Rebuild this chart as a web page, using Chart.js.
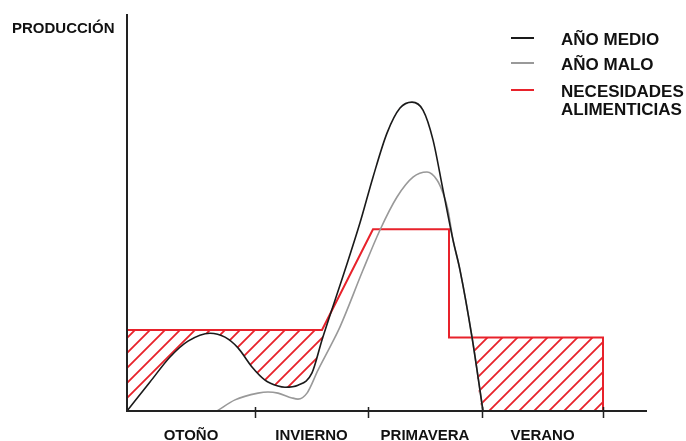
<!DOCTYPE html>
<html>
<head>
<meta charset="utf-8">
<script src="https://cdn.jsdelivr.net/npm/chart.js@4.4.1/dist/chart.umd.min.js"></script>
<style>
  html, body { margin: 0; padding: 0; background: #fff; }
  canvas { display: block; }
</style>
</head>
<body>
<canvas id="chart" width="686" height="441"></canvas>
<script>
// seasons along the year and where each one starts / ends on the x axis
const seasons = ['OTOÑO', 'INVIERNO', 'PRIMAVERA', 'VERANO'];
const seasonBounds = [0, 3.2, 6.025, 8.875, 11.9];

// AÑO MEDIO (black curve)
const medioX = [0, 0.575, 1.075, 1.525, 2.075, 2.45, 2.775, 3.125, 3.45, 3.775, 3.95, 4.275, 4.625, 4.875, 5.45, 5.825, 6.15, 6.5, 6.825, 7.125, 7.4, 7.65, 7.9, 8.15, 8.325, 8.625, 8.9];
const medioY = [0, 7.3, 13.6, 17.6, 19.6, 18.6, 15.9, 11.1, 7.8, 6.3, 6.0, 6.5, 9.6, 17.9, 35.5, 47.4, 58.9, 70.0, 76.3, 77.8, 75.8, 68.3, 55.7, 43.1, 35.5, 18.6, 0];

// AÑO MALO (grey curve)
const maloX = [2.25, 2.7, 3.275, 3.525, 3.775, 4.125, 4.275, 4.5, 4.775, 5.125, 5.325, 5.9, 6.325, 6.75, 7.15, 7.5, 7.75, 7.9, 8.025, 8.15, 8.325, 8.625, 8.9];
const maloY = [0, 2.8, 4.5, 4.8, 4.5, 3.3, 3.0, 4.5, 10.3, 17.1, 21.2, 35.5, 45.6, 53.9, 58.9, 60.2, 58.2, 54.9, 50.6, 43.1, 35.5, 18.6, 0];

// NECESIDADES ALIMENTICIAS (red step line)
const needX = [0, 4.875, 6.15, 8.05, 8.05, 11.9, 11.9];
const needY = [20.4, 20.4, 45.8, 45.8, 18.5, 18.5, 0];

const RED = '#e8222b';

function toPoints(xs, ys) {
  return xs.map((x, i) => ({ x: x, y: ys[i] }));
}

const canvas = document.getElementById('chart');
const ctx = canvas.getContext('2d');

// red diagonal hatch for the deficit areas
function makeHatch() {
  const c = document.createElement('canvas');
  c.width = 15; c.height = 15;
  const g = c.getContext('2d');
  g.strokeStyle = RED;
  g.lineWidth = 1.8;
  g.beginPath();
  g.moveTo(-2, 17); g.lineTo(17, -2);
  g.moveTo(-2, 2); g.lineTo(2, -2);
  g.moveTo(13, 17); g.lineTo(17, 13);
  g.stroke();
  return ctx.createPattern(c, 'repeat');
}

// lower edge of the hatch: the black curve, then the axis until the end of summer
const floorX = medioX.concat([11.9, 13]);
const floorY = medioY.concat([0, 0]);

const decorations = {
  id: 'decorations',
  afterDatasetsDraw(chart) {
    const { ctx, chartArea: a, scales: { x } } = chart;
    ctx.save();
    // axes
    ctx.strokeStyle = '#222';
    ctx.lineWidth = 2;
    ctx.beginPath();
    ctx.moveTo(a.left, a.top);
    ctx.lineTo(a.left, a.bottom);
    ctx.lineTo(a.right, a.bottom);
    ctx.stroke();
    // season ticks
    ctx.lineWidth = 1.5;
    ctx.beginPath();
    seasonBounds.slice(1).forEach(v => {
      const px = Math.round(x.getPixelForValue(v)) + 0.5;
      ctx.moveTo(px, a.bottom - 4);
      ctx.lineTo(px, a.bottom + 7);
    });
    ctx.stroke();
    // season labels
    ctx.fillStyle = '#111';
    ctx.font = 'bold 15px "Liberation Sans", Arial, sans-serif';
    ctx.textAlign = 'center';
    ctx.textBaseline = 'alphabetic';
    seasons.forEach((s, i) => {
      const mid = (seasonBounds[i] + seasonBounds[i + 1]) / 2;
      ctx.fillText(s, x.getPixelForValue(mid), 440);
    });
    // y title
    ctx.textAlign = 'left';
    ctx.fillText('PRODUCCIÓN', 12, 33);
    ctx.restore();
  },
  afterDraw(chart) {
    const { ctx } = chart;
    ctx.save();
    ctx.font = 'bold 17px "Liberation Sans", Arial, sans-serif';
    ctx.textAlign = 'left';
    ctx.textBaseline = 'alphabetic';
    const rows = [38, 63, 90];
    chart.data.datasets.slice(0, 3).forEach((ds, i) => {
      ctx.strokeStyle = ds.borderColor;
      ctx.lineWidth = 2;
      ctx.beginPath();
      ctx.moveTo(511, rows[i]);
      ctx.lineTo(534, rows[i]);
      ctx.stroke();
      ctx.fillStyle = '#111';
      const lines = Array.isArray(ds.label) ? ds.label : [ds.label];
      lines.forEach((t, j) => ctx.fillText(t, 561, rows[i] + 7 + j * 18));
    });
    ctx.restore();
  }
};

new Chart(ctx, {
  type: 'line',
  data: {
    datasets: [
      {
        label: 'AÑO MEDIO',
        data: toPoints(medioX, medioY),
        borderColor: '#1a1a1a',
        borderWidth: 1.6,
        cubicInterpolationMode: 'monotone',
        fill: false
      },
      {
        label: 'AÑO MALO',
        data: toPoints(maloX, maloY),
        borderColor: '#999999',
        borderWidth: 1.6,
        cubicInterpolationMode: 'monotone',
        fill: false
      },
      {
        label: ['NECESIDADES', 'ALIMENTICIAS'],
        data: toPoints(needX, needY),
        borderColor: RED,
        borderWidth: 2,
        tension: 0,
        fill: { target: 3, above: makeHatch(), below: 'rgba(0,0,0,0)' }
      },
      {
        label: 'floor',
        data: toPoints(floorX, floorY),
        borderColor: 'rgba(0,0,0,0)',
        borderWidth: 0,
        cubicInterpolationMode: 'monotone',
        fill: false
      }
    ]
  },
  options: {
    responsive: false,
    animation: false,
    layout: { padding: { left: 127, top: 14, right: 39, bottom: 30 } },
    elements: { point: { radius: 0 } },
    plugins: {
      legend: { display: false },
      tooltip: { enabled: false }
    },
    scales: {
      x: { type: 'linear', display: false, min: 0, max: 13 },
      y: { display: false, min: 0, max: 100 }
    }
  },
  plugins: [decorations]
});
</script>
</body>
</html>
